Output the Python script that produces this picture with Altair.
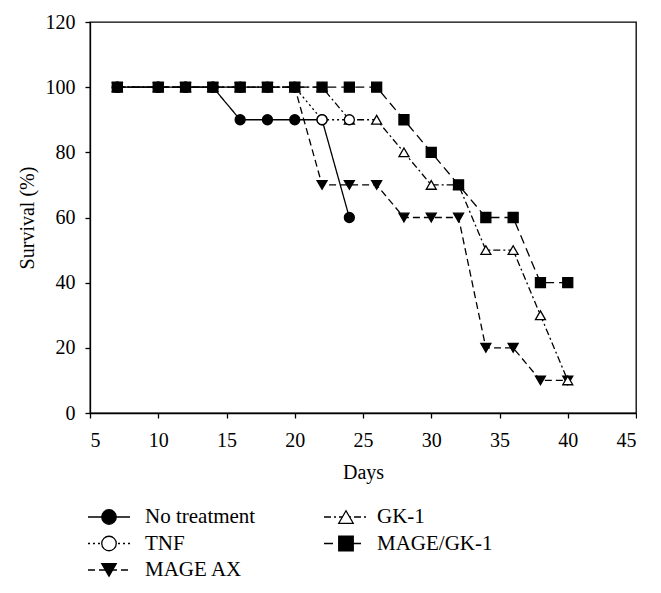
import altair as alt
import pandas as pd

# ---- data ----
days = [7, 10, 12, 14, 16, 18, 20, 22, 24, 26, 28, 30, 32, 34, 36, 38, 40]
series_names = ["No treatment", "TNF", "MAGE AX", "GK-1", "MAGE/GK-1"]
no_treatment = [100, 100, 100, 100, 90, 90, 90, 90, 60]
tnf = [100, 100, 100, 100, 100, 100, 100, 90, 90]
mage_ax = [100, 100, 100, 100, 100, 100, 100, 70, 70, 70, 60, 60, 60, 20, 20, 10, 10]
gk1 = [100, 100, 100, 100, 100, 100, 100, 100, 90, 90, 80, 70, 70, 50, 50, 30, 10]
mage_gk1 = [100, 100, 100, 100, 100, 100, 100, 100, 100, 100, 90, 80, 70, 60, 60, 40, 40]
x_ticks = [5, 10, 15, 20, 25, 30, 35, 40, 45]
y_ticks = [0, 20, 40, 60, 80, 100, 120]

all_vals = [no_treatment, tnf, mage_ax, gk1, mage_gk1]
rows = []
for name, vals in zip(series_names, all_vals):
    for d, v in zip(days, vals):
        rows.append({"series": name, "day": d, "survival": v})
df = pd.DataFrame(rows)
leg_df = pd.DataFrame({"series": series_names, "idx": list(range(len(series_names)))})

FONT = "Liberation Serif"
W, H = 546, 391

dash_scale = alt.Scale(domain=series_names,
                       range=[[1, 0], [2, 3], [7, 4], [7, 3, 2, 3], [9, 5]])
shape_scale = alt.Scale(domain=series_names,
                        range=["circle", "circle", "triangle-down", "triangle-up", "square"])
fill_scale = alt.Scale(domain=series_names,
                       range=["black", "white", "black", "white", "black"])

x_enc = alt.X("day:Q", scale=alt.Scale(domain=[5, 45], nice=False, zero=False),
              axis=alt.Axis(values=x_ticks, title="Days", labelPadding=12, titlePadding=12))
y_enc = alt.Y("survival:Q", scale=alt.Scale(domain=[0, 120], nice=False),
              axis=alt.Axis(values=y_ticks, title="Survival (%)", labelPadding=10, titlePadding=8))

base = alt.Chart(df)
lines = base.mark_line(color="black", strokeWidth=1.3).encode(
    x=x_enc, y=y_enc,
    strokeDash=alt.StrokeDash("series:N", scale=dash_scale, legend=None),
    detail="series:N",
)
points = base.transform_calculate(
    z="indexof(['MAGE AX','GK-1','MAGE/GK-1','No treatment','TNF'], datum.series)",
    fillkey="(datum.series == 'TNF' && datum.survival == 100) ? 'No treatment' : datum.series",
).mark_point(stroke="black", strokeWidth=1.3, size=100, opacity=1, fillOpacity=1).encode(
    x=x_enc, y=y_enc,
    shape=alt.Shape("series:N", scale=shape_scale, legend=None),
    fill=alt.Fill("fillkey:N", scale=fill_scale, legend=None),
    order=alt.Order("z:Q"),
)
main = alt.layer(lines, points)

# ---- manual legend below the plot (two columns, column-major) ----
lx_scale = alt.Scale(domain=[0, W], nice=False, zero=False)
ly_scale = alt.Scale(domain=[0, H], reverse=True, nice=False, zero=False)
leg_base = alt.Chart(leg_df).transform_calculate(
    col="floor(datum.idx / 3)", row="datum.idx % 3"
).transform_calculate(
    ly="495 + datum.row * 26.5",
    lx1="-2 + datum.col * 236",
    lx2="40 + datum.col * 236",
    lm="19 + datum.col * 237",
    lt="55 + datum.col * 232",
)
leg_rule = leg_base.mark_rule(color="black", strokeWidth=1.3).encode(
    x=alt.X("lx1:Q", scale=lx_scale, axis=None),
    x2="lx2:Q",
    y=alt.Y("ly:Q", scale=ly_scale, axis=None),
    strokeDash=alt.StrokeDash("series:N", scale=dash_scale, legend=None),
)
leg_pts = leg_base.mark_point(stroke="black", strokeWidth=1.3, size=210, opacity=1, fillOpacity=1).encode(
    x=alt.X("lm:Q", scale=lx_scale, axis=None),
    y=alt.Y("ly:Q", scale=ly_scale, axis=None),
    shape=alt.Shape("series:N", scale=shape_scale, legend=None),
    fill=alt.Fill("series:N", scale=fill_scale, legend=None),
)
leg_txt = leg_base.mark_text(align="left", baseline="middle", font=FONT, fontSize=21, color="black").encode(
    x=alt.X("lt:Q", scale=lx_scale, axis=None),
    y=alt.Y("ly:Q", scale=ly_scale, axis=None),
    text="series:N",
)
legend = alt.layer(leg_rule, leg_pts, leg_txt)

chart = alt.layer(main, legend).resolve_scale(
    x="independent", y="independent"
).properties(
    width=W, height=H,
    padding={"left": 9, "top": 4, "right": 0, "bottom": 0},
).configure_view(
    stroke="black", strokeWidth=1.3
).configure_axis(
    grid=False, domainColor="black", domainWidth=1.3, tickColor="black", tickWidth=1.3,
    tickSize=5, labelFont=FONT, labelFontSize=20, labelColor="black",
    titleFont=FONT, titleFontSize=20, titleFontWeight="normal", titleColor="black",
)

chart.save("out.html", embed_options={"renderer": "svg", "actions": False})
